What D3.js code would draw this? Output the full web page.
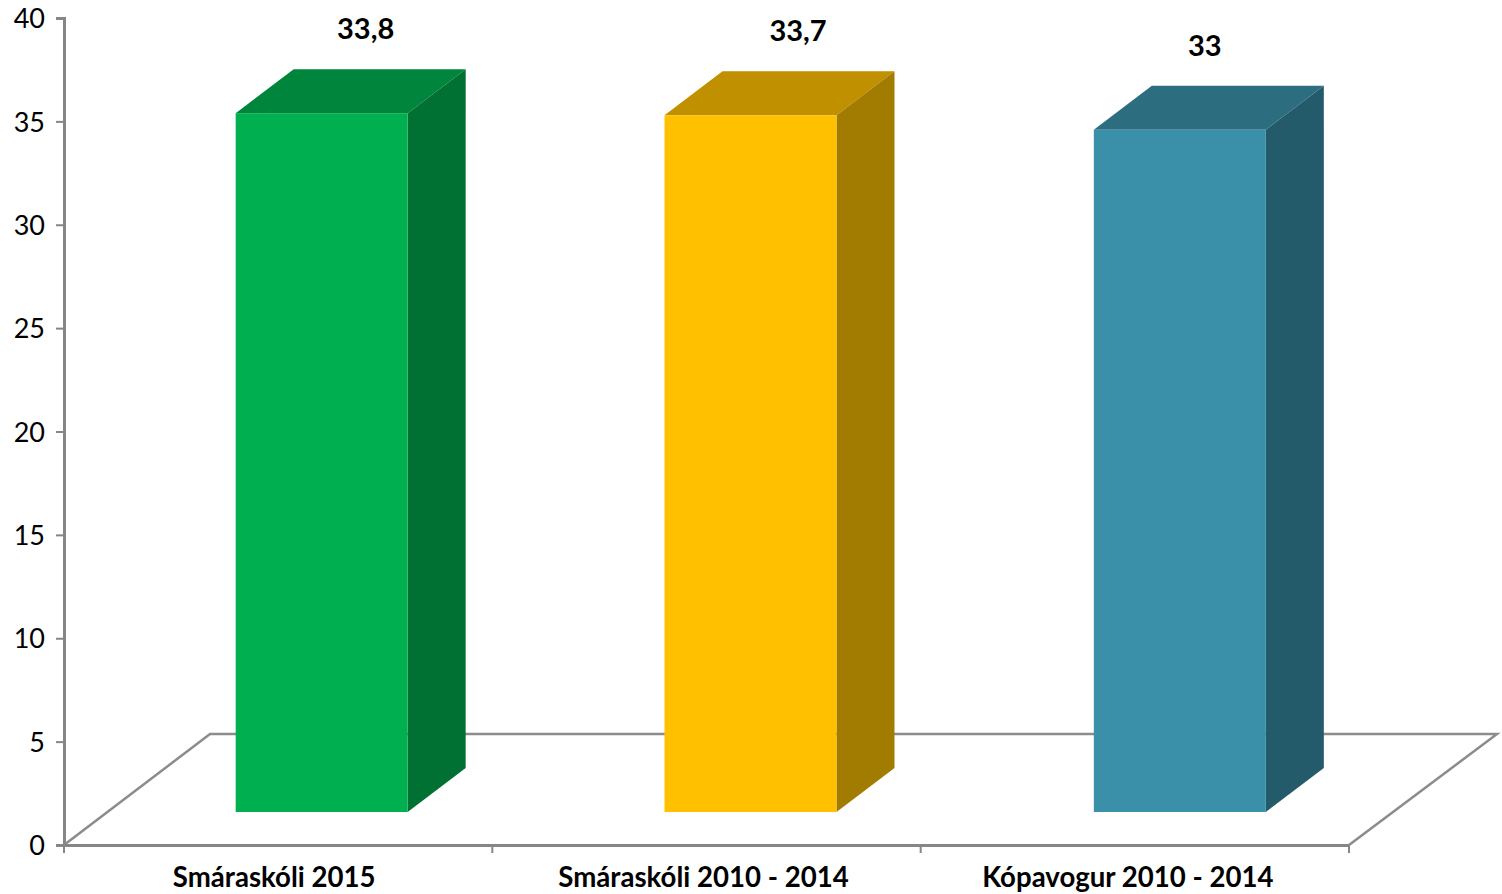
<!DOCTYPE html>
<html>
<head>
<meta charset="utf-8">
<script src="https://cdn.jsdelivr.net/npm/d3@7"></script>
<style>
  html, body { margin: 0; padding: 0; background: #fff; }
  svg text { font-family: Lato, "Open Sans", sans-serif; }
  svg { display: block; }
  .axis path, .axis line { stroke: #868686; }
  .axis path { stroke-width: 3; }
  .axis line { stroke-width: 2; }
  .axis text { fill: #000; }
</style>
</head>
<body>
<svg width="1502" height="894"></svg>
<script>
const categories = ["Smáraskóli 2015", "Smáraskóli 2010 - 2014", "Kópavogur 2010 - 2014"];
const values = [33.8, 33.7, 33];
const yTicks = [0, 5, 10, 15, 20, 25, 30, 35, 40];
const frontColors = ["#00B050", "#FFC000", "#3A90A8"];
const topColors = ["#00853C", "#C09000", "#2C6D80"];
const sideColors = ["#007033", "#A27C00", "#245B6B"];

const svg = d3.select("svg"),
    axisX = 64,
    axisY = 845,
    axisTop = 18,
    axisRight = 1349;

// fake 3d: how far the floor goes back, and where the bars stand on it
const floorDx = 146, floorDy = 111;
const barDx = 43, barDy = 33;
const sideDx = 58, sideDy = 44;
const barWidth = 172;

// small corrections, the original isn't perfectly regular
const barShift = [0.5, 1, 2];
const valueLabelShift = [44, 47.5, 25];
const catLabelShift = [-4, -3, -7];

const x = d3.scaleBand().domain(categories).range([axisX, axisRight]);
const y = d3.scaleLinear().domain([0, 40]).range([axisY, axisTop]);

// floor
svg.append("path")
    .attr("d", d3.line()([
        [axisX, axisY],
        [axisX + floorDx, axisY - floorDy],
        [axisRight + floorDx + 2, axisY - floorDy],
        [axisRight, axisY]
    ]))
    .attr("fill", "none")
    .attr("stroke", "#8c8c8c")
    .attr("stroke-width", 2.5);

// axes
const gy = svg.append("g")
    .attr("class", "axis")
    .attr("transform", "translate(" + axisX + ",0)")
    .call(d3.axisLeft(y).tickValues(yTicks).tickSize(8).tickPadding(10));
gy.selectAll("text")
    .style("font-size", "27px")
    .attr("dx", "-1")
    .attr("y", 1);

const gx = svg.append("g")
    .attr("class", "axis")
    .attr("transform", "translate(0," + axisY + ")")
    .call(d3.axisBottom(x).tickSize(0).tickPadding(22));
gx.selectAll("text")
    .style("font-size", "27.6px")
    .style("font-weight", 700)
    .attr("dx", (d, i) => catLabelShift[i]);

// tick marks go between the categories
gx.selectAll(".between")
    .data(d3.range(categories.length + 1))
    .enter().append("line")
    .attr("class", "between")
    .attr("x1", i => axisX + i * x.step())
    .attr("x2", i => axisX + i * x.step())
    .attr("y1", 0)
    .attr("y2", 8);

// bars
const bars = svg.selectAll(".bar")
    .data(categories)
    .enter().append("g")
    .attr("class", "bar");

const barX = (d, i) => x(d) + x.bandwidth() / 2 + barDx - barWidth / 2 + barShift[i];
const barTop = (d, i) => y(values[i]) - barDy;
const barBottom = axisY - barDy;

bars.append("path")
    .attr("fill", (d, i) => topColors[i])
    .attr("d", (d, i) => d3.line()([
        [barX(d, i), barTop(d, i)],
        [barX(d, i) + sideDx, barTop(d, i) - sideDy],
        [barX(d, i) + barWidth + sideDx, barTop(d, i) - sideDy],
        [barX(d, i) + barWidth, barTop(d, i)]
    ]));

bars.append("path")
    .attr("fill", (d, i) => sideColors[i])
    .attr("d", (d, i) => d3.line()([
        [barX(d, i) + barWidth, barTop(d, i)],
        [barX(d, i) + barWidth + sideDx, barTop(d, i) - sideDy],
        [barX(d, i) + barWidth + sideDx, barBottom - sideDy],
        [barX(d, i) + barWidth, barBottom]
    ]));

bars.append("rect")
    .attr("fill", (d, i) => frontColors[i])
    .attr("x", barX)
    .attr("y", barTop)
    .attr("width", barWidth)
    .attr("height", (d, i) => barBottom - barTop(d, i));

// value labels
bars.append("text")
    .attr("x", (d, i) => barX(d, i) + barWidth / 2 + valueLabelShift[i])
    .attr("y", (d, i) => barTop(d, i) - 74)
    .attr("text-anchor", "middle")
    .style("font-size", "29px")
    .style("font-weight", 700)
    .text((d, i) => String(values[i]).replace(".", ","));
</script>
</body>
</html>
